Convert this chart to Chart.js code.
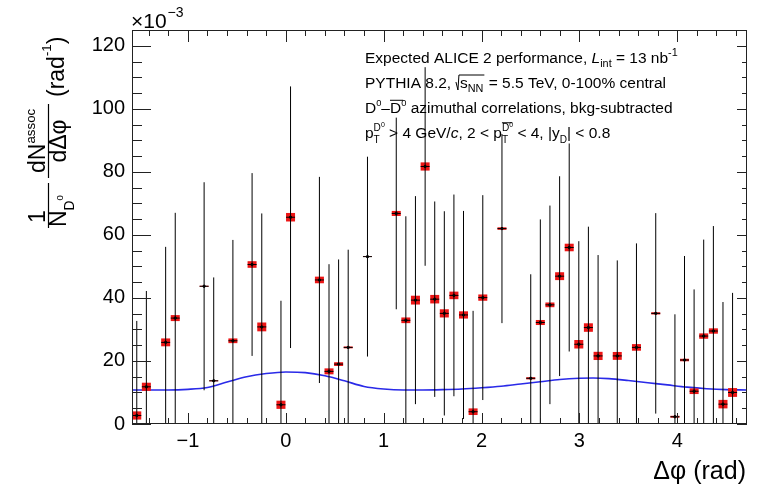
<!DOCTYPE html>
<html>
<head>
<meta charset="utf-8">
<script src="https://cdn.jsdelivr.net/npm/chart.js@4.4.1/dist/chart.umd.min.js"></script>
<style>
  html, body { margin: 0; padding: 0; background: #fff; }
  #wrap { width: 760px; height: 487px; position: relative; }
</style>
</head>
<body>
<div id="wrap"><canvas id="c" width="760" height="487"></canvas></div>
<script>
// D0-D0bar azimuthal correlation, bin centres (rad) of the filled bins
const dphi = [-1.522, -1.424, -1.227, -1.129, -0.834, -0.736, -0.540, -0.344, -0.245, -0.049,
              0.049, 0.344, 0.442, 0.540, 0.638, 0.835, 1.129, 1.227, 1.325, 1.424,
              1.522, 1.620, 1.718, 1.816, 1.914, 2.013, 2.209, 2.503, 2.601, 2.699,
              2.798, 2.896, 2.994, 3.092, 3.191, 3.387, 3.583, 3.780, 3.976, 4.074,
              4.172, 4.270, 4.369, 4.467, 4.565];
// per-trigger yield (x 10^-3 rad^-1)
const yields = [2.7, 11.8, 25.9, 33.6, 43.7, 13.7, 26.4, 50.6, 30.8, 6.1,
                65.6, 45.7, 16.7, 19.0, 24.3, 53.1, 66.8, 32.9, 39.3, 81.7,
                39.6, 35.1, 40.8, 34.6, 3.9, 40.1, 62.0, 14.5, 32.2, 37.8,
                46.9, 56.0, 25.3, 30.6, 21.6, 21.6, 24.3, 35.1, 2.3, 20.3,
                10.4, 27.9, 29.5, 6.3, 10.0];
// statistical uncertainty
const statErr = [30.0, 30.4, 30.3, 33.4, 33.0, 32.8, 32.0, 29.0, 36.0, 33.0,
                 41.5, 32.7, 34.0, 33.2, 31.0, 31.7, 30.4, 33.0, 33.0, 31.5,
                 31.0, 32.4, 32.0, 33.0, 32.0, 32.5, 30.0, 33.0, 32.7, 31.5,
                 31.7, 33.0, 32.7, 32.0, 32.0, 30.3, 33.0, 31.8, 32.5, 33.0,
                 32.3, 30.6, 33.3, 32.4, 31.6];
// systematic uncertainty (boxes)
const systErr = [1.3, 1.3, 1.25, 0.95, 0.15, 0.15, 0.75, 1.05, 1.4, 1.3,
                 1.35, 1.05, 0.95, 0.6, 0.3, 0.1, 0.8, 0.9, 1.4, 1.3,
                 1.35, 1.3, 1.2, 1.15, 1.05, 1.0, 0.4, 0.35, 0.8, 0.75,
                 1.25, 1.2, 1.35, 1.35, 1.3, 1.25, 1.05, 0.35, 0.3, 0.4,
                 0.9, 0.85, 0.85, 1.35, 1.4];
// PYTHIA 8.2 expectation
const modelPhi = [-1.571, -1.4, -1.2, -1.0, -0.8, -0.6, -0.4, -0.2, 0.0, 0.2, 0.4, 0.6, 0.8,
                  1.0, 1.2, 1.4, 1.6, 1.8, 2.0, 2.2, 2.4, 2.6, 2.8, 3.0, 3.14, 3.3, 3.5,
                  3.7, 3.9, 4.1, 4.3, 4.5, 4.712];
const modelYield = [10.8, 10.8, 10.8, 11.0, 11.6, 13.3, 15.0, 16.0, 16.5, 16.3, 15.3, 13.7, 11.9,
                    11.1, 10.8, 10.8, 10.9, 11.1, 11.5, 12.0, 12.7, 13.4, 14.1, 14.5, 14.6, 14.4, 13.8,
                    13.1, 12.4, 11.7, 11.2, 10.9, 10.8];
// axis ticks
const xTicks = [-1, 0, 1, 2, 3, 4];
const yTicks = [0, 20, 40, 60, 80, 100, 120];

const FONT = "'Liberation Sans', Arial, Helvetica, sans-serif";
const BOX_HALF_WIDTH = 0.046;

function drawRich(ctx, x, y, segs, size) {
  let lastStart = x;
  for (const s of segs) {
    const fs = size * (s.s || 1);
    ctx.font = (s.it ? 'italic ' : '') + fs + 'px ' + FONT;
    const start = s.stack ? lastStart : x;
    const yy = y + (s.dy || 0) * size;
    ctx.fillText(s.t, start, yy);
    const w = ctx.measureText(s.t).width;
    if (s.ov) {
      ctx.beginPath();
      ctx.lineWidth = 1;
      ctx.moveTo(start, yy - fs * 0.82);
      ctx.lineTo(start + w + (s.ovx || 0), yy - fs * 0.82);
      ctx.stroke();
    }
    if (!s.stack) lastStart = start;
    x = start + w;
  }
  return x;
}

function drawMeasurements(chart) {
  const ctx = chart.ctx, xs = chart.scales.x, ys = chart.scales.y, a = chart.chartArea;
  ctx.save();
  ctx.beginPath();
  ctx.rect(a.left, a.top, a.right - a.left, a.bottom - a.top);
  ctx.clip();
  // systematic boxes
  ctx.fillStyle = '#ec1515';
  dphi.forEach((x, i) => {
    const xl = xs.getPixelForValue(x - BOX_HALF_WIDTH);
    const xr = xs.getPixelForValue(x + BOX_HALF_WIDTH);
    const yt = ys.getPixelForValue(yields[i] + systErr[i]);
    const yb = ys.getPixelForValue(yields[i] - systErr[i]);
    ctx.fillRect(xl, yt, xr - xl, yb - yt);
  });
  // statistical bars and bin-width markers
  ctx.strokeStyle = '#000';
  ctx.lineWidth = 1;
  dphi.forEach((x, i) => {
    const xc = xs.getPixelForValue(x);
    const xl = xs.getPixelForValue(x - BOX_HALF_WIDTH);
    const xr = xs.getPixelForValue(x + BOX_HALF_WIDTH);
    const yc = ys.getPixelForValue(yields[i]);
    ctx.beginPath();
    ctx.moveTo(xc, ys.getPixelForValue(yields[i] + statErr[i]));
    ctx.lineTo(xc, ys.getPixelForValue(yields[i] - statErr[i]));
    ctx.moveTo(xl, yc);
    ctx.lineTo(xr, yc);
    ctx.stroke();
  });
  ctx.restore();
}

function drawFrame(chart) {
  const ctx = chart.ctx, xs = chart.scales.x, ys = chart.scales.y, a = chart.chartArea;
  ctx.save();
  ctx.strokeStyle = '#222';
  ctx.lineWidth = 1;
  ctx.strokeRect(a.left + 0.5, a.top + 0.5, a.right - a.left - 1, a.bottom - a.top - 1);
  ctx.beginPath();
  // x ticks: majors on integers, minors every 0.2
  for (let k = -8; k <= 23; k++) {
    const v = k * 0.2;
    if (v < xs.min || v > xs.max) continue;
    const major = Math.abs(v - Math.round(v)) < 1e-6;
    const px = Math.round(xs.getPixelForValue(v)) + 0.5;
    const len = major ? 11 : 6;
    ctx.moveTo(px, a.bottom); ctx.lineTo(px, a.bottom - len);
    ctx.moveTo(px, a.top); ctx.lineTo(px, a.top + (major ? 12 : 6));
  }
  // y ticks: majors every 20, minors every 5
  for (let v = 0; v <= 125; v += 5) {
    const major = v % 20 === 0;
    const py = Math.round(ys.getPixelForValue(v)) + 0.5;
    ctx.moveTo(a.left, py); ctx.lineTo(a.left + (major ? 19 : 10), py);
    ctx.moveTo(a.right, py); ctx.lineTo(a.right - (major ? 10 : 5), py);
  }
  ctx.stroke();
  ctx.restore();
}

function drawTexts(chart) {
  const ctx = chart.ctx;
  ctx.save();
  ctx.fillStyle = '#000';
  ctx.strokeStyle = '#000';
  ctx.textBaseline = 'alphabetic';
  ctx.textAlign = 'left';

  // exponent of the y axis
  let x = drawRich(ctx, 131, 28, [{ t: '\u00d710' }], 21);
  drawRich(ctx, x + 1, 17, [{ t: '\u22123' }], 14);

  // x axis title
  ctx.font = '25px ' + FONT;
  ctx.textAlign = 'right';
  ctx.fillText('\u0394\u03c6 (rad)', 746, 479);
  ctx.textAlign = 'left';

  // y axis title (rotated)
  ctx.save();
  ctx.translate(0, 228);
  ctx.rotate(-Math.PI / 2);
  const F = 23;
  ctx.lineWidth = 1.2;
  ctx.beginPath();
  ctx.moveTo(0, 48.5); ctx.lineTo(45, 48.5);
  ctx.moveTo(50, 48.5); ctx.lineTo(124, 48.5);
  ctx.stroke();
  drawRich(ctx, 5, 45, [{ t: '1' }], F);
  drawRich(ctx, 1, 66, [{ t: 'N' }, { t: 'D', s: 0.6, dy: 0.33 }, { t: '0', s: 0.42, dy: -0.12 }], F);
  drawRich(ctx, 55, 45, [{ t: 'dN' }, { t: 'assoc', s: 0.58, dy: -0.45 }], F);
  ctx.font = F + 'px ' + FONT;
  const wd = ctx.measureText('d\u0394\u03c6').width;
  drawRich(ctx, 87 - wd / 2, 66, [{ t: 'd\u0394\u03c6' }], F);
  drawRich(ctx, 131, 64, [{ t: '(rad' }, { t: '-1', s: 0.58, dy: -0.55 }, { t: ')' }], F);
  ctx.restore();

  // annotation block
  const S = 15.5, X0 = 365;
  drawRich(ctx, X0, 63, [
    { t: 'Expected ALICE 2 performance, ' }, { t: 'L', it: true },
    { t: 'int', s: 0.7, dy: 0.25 }, { t: ' = 13 nb' }, { t: '-1', s: 0.7, dy: -0.42 }
  ], S);

  x = drawRich(ctx, X0, 88, [{ t: 'PYTHIA 8.2, ' }], S);
  // square-root sign
  ctx.lineWidth = 1;
  ctx.beginPath();
  ctx.moveTo(x + 0.5, 88 - 6);
  ctx.lineTo(x + 2.5, 88 + 2);
  ctx.lineTo(x + 3.5, 88 - 13);
  const xs0 = x + 3.5;
  ctx.stroke();
  x = drawRich(ctx, x + 4.5, 88, [{ t: 's' }, { t: 'NN', s: 0.7, dy: 0.25 }], S);
  ctx.beginPath();
  ctx.moveTo(xs0, 88 - 13); ctx.lineTo(x + 1, 88 - 13);
  ctx.stroke();
  drawRich(ctx, x + 1, 88, [{ t: ' = 5.5 TeV, 0-100% central' }], S);

  drawRich(ctx, X0, 113, [
    { t: 'D' }, { t: '0', s: 0.6, dy: -0.42 }, { t: '\u2013' },
    { t: 'D', ov: true, ovx: 2 }, { t: '0', s: 0.6, dy: -0.42 },
    { t: ' azimuthal correlations, bkg-subtracted' }
  ], S);

  drawRich(ctx, X0, 138, [
    { t: 'p' }, { t: 'T', s: 0.65, dy: 0.3 },
    { t: 'D', s: 0.65, dy: -0.45, stack: true }, { t: '0', s: 0.45, dy: -0.72 },
    { t: ' > 4 GeV/' }, { t: 'c', it: true }, { t: ', 2 < p' },
    { t: 'T', s: 0.65, dy: 0.3 },
    { t: 'D', s: 0.65, dy: -0.45, stack: true, ov: true, ovx: 3 }, { t: '0', s: 0.45, dy: -0.72 },
    { t: ' < 4, |y' }, { t: 'D', s: 0.65, dy: 0.3 }, { t: '| < 0.8' }
  ], S);
  ctx.restore();
}

const rootStyle = {
  id: 'rootStyle',
  afterDatasetDraw(chart, args) {
    if (args.index === 0) drawMeasurements(chart);
  },
  afterDraw(chart) {
    drawFrame(chart);
    drawTexts(chart);
  }
};

new Chart(document.getElementById('c'), {
  type: 'scatter',
  data: {
    datasets: [
      {
        type: 'line',
        label: 'PYTHIA 8.2',
        data: modelPhi.map((x, i) => ({ x, y: modelYield[i] })),
        borderColor: '#2a2ae8',
        borderWidth: 1.6,
        pointRadius: 0,
        fill: false,
        cubicInterpolationMode: 'monotone',
        order: 2
      },
      {
        label: 'D0-D0bar',
        data: dphi.map((x, i) => ({ x, y: yields[i] })),
        backgroundColor: '#000',
        borderColor: '#000',
        pointRadius: 1.2,
        pointHoverRadius: 1.2,
        order: 1
      }
    ]
  },
  options: {
    responsive: false,
    animation: false,
    devicePixelRatio: 1,
    events: [],
    layout: { padding: { top: 30, right: 13, left: 0, bottom: 0 } },
    plugins: { legend: { display: false }, tooltip: { enabled: false } },
    scales: {
      x: {
        type: 'linear',
        min: -Math.PI / 2,
        max: 3 * Math.PI / 2,
        afterBuildTicks: s => { s.ticks = xTicks.map(v => ({ value: v })); },
        afterFit: s => { s.height = 63; },
        grid: { display: false, drawTicks: false },
        border: { display: false },
        ticks: {
          color: '#000',
          font: { family: FONT, size: 20 },
          padding: 5,
          maxRotation: 0,
          autoSkip: false,
          callback: v => String(v).replace('-', '\u2212')
        }
      },
      y: {
        type: 'linear',
        min: 0,
        max: 125,
        afterBuildTicks: s => { s.ticks = yTicks.map(v => ({ value: v })); },
        afterFit: s => { s.width = 132; },
        grid: { display: false, drawTicks: false },
        border: { display: false },
        ticks: {
          color: '#000',
          font: { family: FONT, size: 20 },
          padding: 7
        }
      }
    }
  },
  plugins: [rootStyle]
});
</script>
</body>
</html>
